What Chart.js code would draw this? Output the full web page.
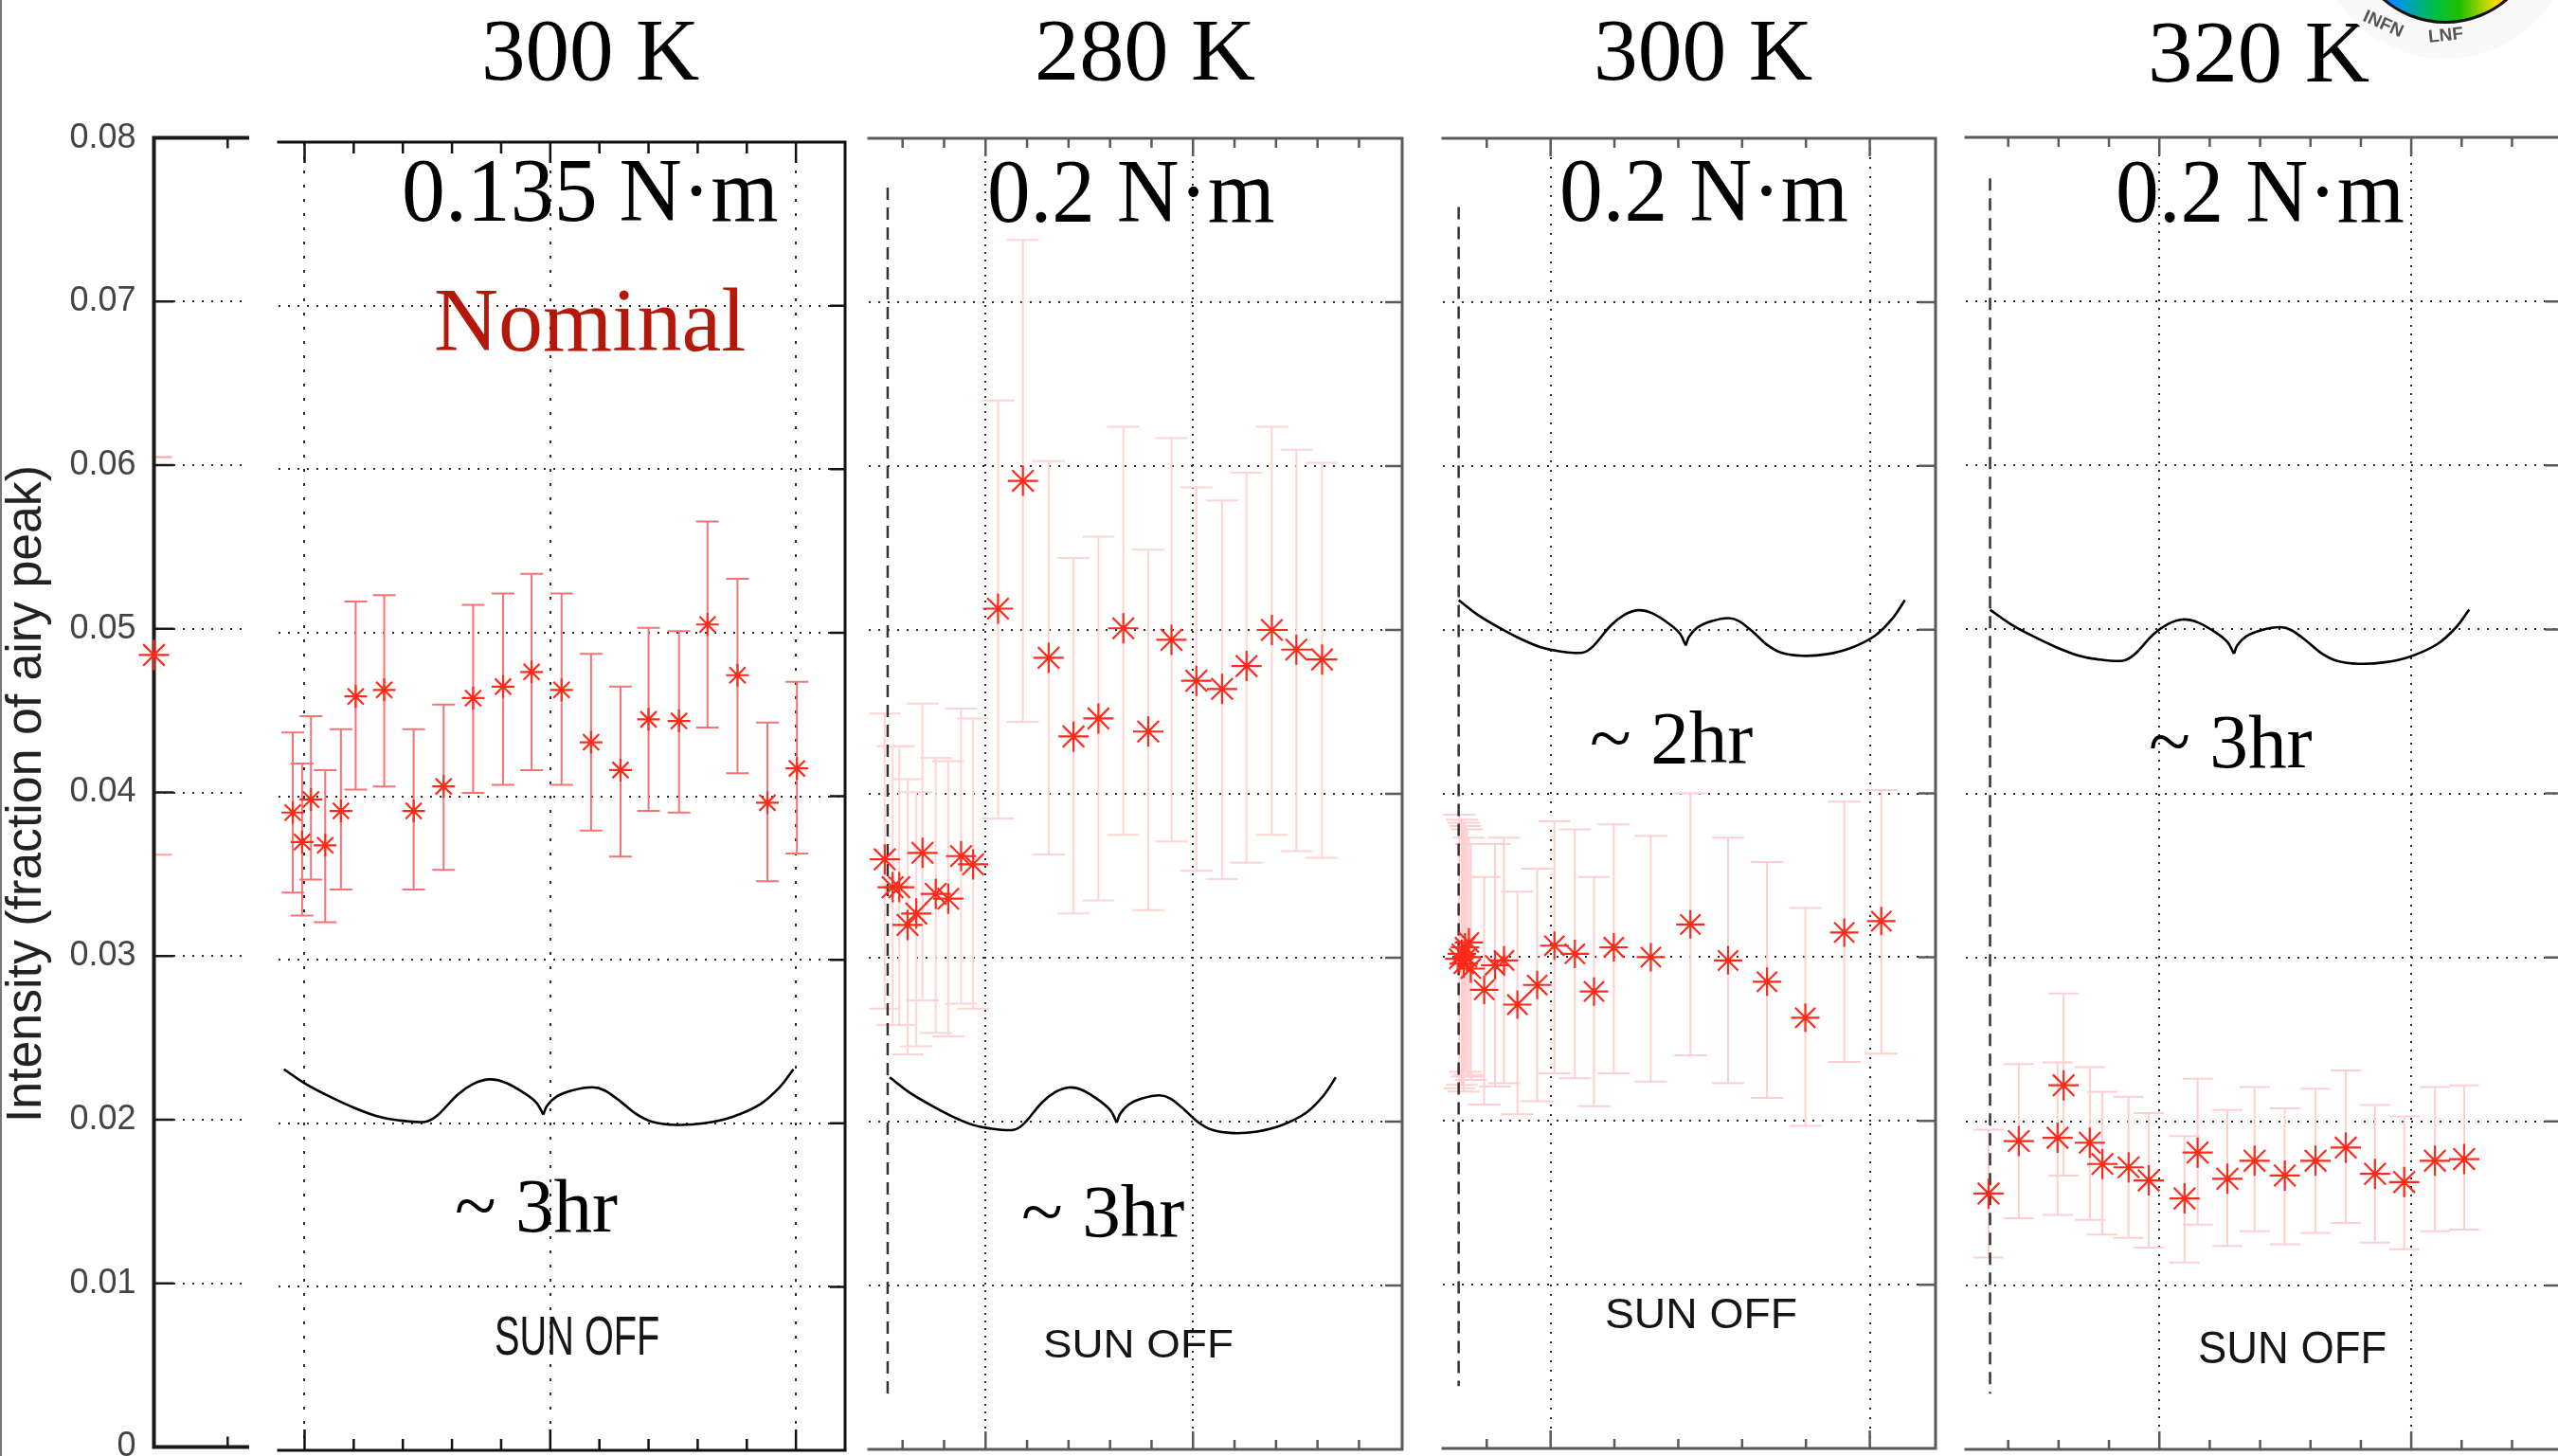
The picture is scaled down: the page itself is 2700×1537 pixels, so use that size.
<!DOCTYPE html>
<html><head><meta charset="utf-8">
<script src="https://cdn.jsdelivr.net/npm/chart.js@4.4.1/dist/chart.umd.min.js"></script>
<style>
html,body{margin:0;padding:0;background:#fff;overflow:hidden}
#stage{position:relative;width:2700px;height:1537px;overflow:hidden;background:#fff}
#stage canvas{position:absolute}
.txt{position:absolute;white-space:nowrap;transform-origin:0 0}
</style></head><body><div id="stage"></div>
<script>
// ================= DATA =================
const yTicks = [0, 0.01, 0.02, 0.03, 0.04, 0.05, 0.06, 0.07, 0.08];
const yTickLabels = ['0', '0.01', '0.02', '0.03', '0.04', '0.05', '0.06', '0.07', '0.08'];
const yGridValues = [0.01, 0.02, 0.03, 0.04, 0.05, 0.06, 0.07];
const yAxisTitle = 'Intensity (fraction of airy peak)';

// run 0 : cut-off previous run at the left edge
const run0Time = [0];
const run0Intensity = [0.0484];
const run0Upper = [0.0605];
const run0Lower = [0.0362];

// run 1 : 300 K, 0.135 N·m (nominal)
const run1Time = [-0.24, -0.05, 0.13, 0.42, 0.74, 1.04, 1.62, 2.22, 2.83, 3.43, 4.04, 4.62, 5.23, 5.83, 6.43, 7.00, 7.62, 8.20, 8.81, 9.42, 10.02];
const run1Intensity = [0.0390, 0.0372, 0.0398, 0.0370, 0.0391, 0.0461, 0.0465, 0.0391, 0.0406, 0.0460, 0.0467, 0.0476, 0.0465, 0.0433, 0.0416, 0.0447, 0.0446, 0.0505, 0.0474, 0.0396, 0.0417];
const run1Upper = [0.0439, 0.0420, 0.0449, 0.0416, 0.0441, 0.0519, 0.0523, 0.0441, 0.0456, 0.0517, 0.0524, 0.0536, 0.0524, 0.0487, 0.0467, 0.0503, 0.0501, 0.0568, 0.0533, 0.0445, 0.0470];
const run1Lower = [0.0341, 0.0327, 0.0349, 0.0323, 0.0343, 0.0404, 0.0406, 0.0343, 0.0355, 0.0402, 0.0407, 0.0416, 0.0407, 0.0379, 0.0363, 0.0391, 0.0390, 0.0442, 0.0414, 0.0348, 0.0365];

// run 2 : 280 K, 0.2 N·m
const run2Time = [2.57, 2.76, 2.92, 3.12, 3.33, 3.48, 3.80, 4.10, 4.41, 4.70, 5.30, 5.90, 6.52, 7.12, 7.72, 8.32, 8.92, 9.48, 10.08, 10.70, 11.29, 11.90, 12.49, 13.11];
const run2Intensity = [0.0360, 0.0343, 0.0343, 0.0320, 0.0327, 0.0364, 0.0339, 0.0336, 0.0362, 0.0357, 0.0513, 0.0591, 0.0483, 0.0435, 0.0446, 0.0501, 0.0438, 0.0494, 0.0469, 0.0464, 0.0478, 0.0500, 0.0488, 0.0482];
const run2Upper = [0.0449, 0.0429, 0.0429, 0.0409, 0.0401, 0.0455, 0.0422, 0.0420, 0.0452, 0.0446, 0.0640, 0.0738, 0.0603, 0.0544, 0.0557, 0.0624, 0.0549, 0.0617, 0.0587, 0.0579, 0.0596, 0.0624, 0.0610, 0.0602];
const run2Lower = [0.0269, 0.0259, 0.0259, 0.0241, 0.0246, 0.0274, 0.0254, 0.0252, 0.0272, 0.0269, 0.0385, 0.0444, 0.0363, 0.0327, 0.0335, 0.0375, 0.0329, 0.0371, 0.0353, 0.0348, 0.0358, 0.0375, 0.0365, 0.0361];

// run 3 : 300 K, 0.2 N·m
const run3Time = [3.57, 3.61, 3.64, 3.66, 3.69, 3.72, 3.75, 3.96, 4.13, 4.27, 4.48, 4.79, 5.06, 5.38, 5.68, 5.99, 6.57, 7.19, 7.78, 8.39, 8.99, 9.60, 10.18];
const run3Intensity = [0.0299, 0.0302, 0.0296, 0.0306, 0.0300, 0.0309, 0.0293, 0.0280, 0.0295, 0.0298, 0.0271, 0.0283, 0.0307, 0.0302, 0.0279, 0.0306, 0.0300, 0.0320, 0.0298, 0.0285, 0.0263, 0.0315, 0.0322];
const run3Upper = [0.0387, 0.0384, 0.0382, 0.0380, 0.0378, 0.0373, 0.0369, 0.0349, 0.0369, 0.0373, 0.0340, 0.0354, 0.0383, 0.0378, 0.0349, 0.0381, 0.0374, 0.0400, 0.0373, 0.0358, 0.0330, 0.0395, 0.0402];
const run3Lower = [0.0220, 0.0222, 0.0218, 0.0230, 0.0227, 0.0228, 0.0225, 0.0210, 0.0221, 0.0223, 0.0204, 0.0212, 0.0229, 0.0226, 0.0209, 0.0229, 0.0224, 0.0240, 0.0223, 0.0214, 0.0197, 0.0236, 0.0241];

// run 4 : 320 K, 0.2 N·m
const run4Time = [1.61, 2.21, 2.98, 3.10, 3.62, 3.87, 4.39, 4.79, 5.50, 5.76, 6.35, 6.89, 7.49, 8.10, 8.70, 9.28, 9.86, 10.47, 11.05];
const run4Intensity = [0.0156, 0.0188, 0.0190, 0.0222, 0.0187, 0.0174, 0.0172, 0.0164, 0.0153, 0.0181, 0.0165, 0.0176, 0.0167, 0.0176, 0.0184, 0.0168, 0.0163, 0.0176, 0.0177];
const run4Upper = [0.0195, 0.0235, 0.0236, 0.0278, 0.0233, 0.0218, 0.0215, 0.0205, 0.0191, 0.0226, 0.0207, 0.0221, 0.0208, 0.0220, 0.0231, 0.0210, 0.0203, 0.0221, 0.0222];
const run4Lower = [0.0117, 0.0141, 0.0143, 0.0167, 0.0140, 0.0131, 0.0129, 0.0123, 0.0114, 0.0137, 0.0124, 0.0133, 0.0125, 0.0132, 0.0138, 0.0126, 0.0122, 0.0133, 0.0134];

// "sun off" instants (dashed markers) and brace annotations (data units)
const sunOffTime = [null, null, 2.64, 3.56, 1.64];
const sunOffSpan = [null, null, [0.0770, 0.0033], [0.0758, 0.0038], [0.0775, 0.0034]];
const braceSpan = [null, [-0.42, 9.95], [2.69, 13.44], [3.56, 10.55], [1.64, 11.15]];
const braceLevel = [null, [0.0233, 0.0199], [0.0227, 0.0193], [0.0518, 0.0484], [0.0512, 0.0479]];
// curly-brace outline: relative position along span (t) and depth (s)
const braceLeftT = [0, 0.043, 0.090, 0.137, 0.184, 0.223, 0.277, 0.301, 0.340, 0.371, 0.402, 0.434, 0.473, 0.496, 0.509];
const braceLeftS = [0, 0.266, 0.492, 0.689, 0.847, 0.915, 0.944, 0.831, 0.463, 0.266, 0.181, 0.237, 0.435, 0.605, 0.814];
const braceRightT = [0.509, 0.516, 0.535, 0.566, 0.605, 0.629, 0.660, 0.691, 0.723, 0.770, 0.824, 0.879, 0.934, 0.973, 1];
const braceRightS = [0.814, 0.661, 0.492, 0.379, 0.322, 0.379, 0.576, 0.802, 0.944, 1.0, 0.972, 0.859, 0.633, 0.322, 0];

const tempLabels = ['300 K', '280 K', '300 K', '320 K'];
const torqueLabels = ['0.135 N·m', '0.2 N·m', '0.2 N·m', '0.2 N·m'];
const durationLabels = ['~ 3hr', '~ 3hr', '~ 2hr', '~ 3hr'];
const sunOffLabel = 'SUN OFF';
const nominalLabel = 'Nominal';

// ================= LAYOUT / STYLE =================
const stage = document.getElementById('stage');
const SERIF = "'Liberation Serif', 'Times New Roman', serif";
const SANS = "'Liberation Sans', Arial, sans-serif";
const STAR = '#ff2a1a';

const panels = [
  { box:{L:162,R:257,T:146,B:1529}, x:[0,1], xGrid:[], xTickVals:[0.79], xMajor:[],
    frame:{left:true,right:false,top:true,bottom:true,color:'#1a1a1a',width:4,yLen:21,minorLen:11,majorLen:11},
    run:[run0Time,run0Intensity,run0Upper,run0Lower], starR:16, err:'#ffa0a0', cap:19, labels:true, xDash:[2,8] },
  { box:{L:294,R:892,T:150,B:1531}, x:[-0.53,11.0], xGrid:[0,5,10], xTickVals:[0,1,2,3,4,5,6,7,8,9,10], xMajor:[0,5,10],
    frame:{left:false,right:true,top:true,bottom:true,color:'#111',width:3,yLen:16,minorLen:12,majorLen:22},
    run:[run1Time,run1Intensity,run1Upper,run1Lower], starR:12, err:'#f27474', cap:12, xDash:[3,12] },
  { box:{L:917,R:1480,T:146,B:1530}, x:[2.185,15.04], xGrid:[5,10], xTickVals:[3,4,5,6,7,8,9,10,11,12,13,14], xMajor:[5,10],
    frame:{left:false,right:true,top:true,bottom:true,color:'#5a5a5a',width:3,yLen:18,minorLen:10,majorLen:19},
    run:[run2Time,run2Intensity,run2Upper,run2Lower], starR:16, err:'#ffd4d4', cap:17, xDash:[2,6] },
  { box:{L:1523,R:2043,T:146,B:1529}, x:[3.313,11.03], xGrid:[5,10], xTickVals:[4,5,6,7,8,9,10], xMajor:[5,10],
    frame:{left:false,right:true,top:true,bottom:true,color:'#5a5a5a',width:3,yLen:18,minorLen:10,majorLen:19},
    run:[run3Time,run3Intensity,run3Upper,run3Lower], starR:15, err:'#ffcfcf', cap:17, xDash:[2,8] },
  { box:{L:2075,R:2702,T:145,B:1530}, x:[1.16,12.95], xGrid:[5,10], xTickVals:[2,3,4,5,6,7,8,9,10,11,12], xMajor:[5,10],
    frame:{left:false,right:true,top:true,bottom:true,color:'#5a5a5a',width:3,yLen:16,minorLen:10,majorLen:19},
    run:[run4Time,run4Intensity,run4Upper,run4Lower], starR:16, err:'#ffcfcf', cap:16, xDash:[2,7] }
];

// plugin: error bars (under markers) + axes frame with inward ticks
const framePlugin = {
  id: 'frame',
  beforeDatasetsDraw(chart) {
    const o = chart.options.plugins.frame; if (!o) return;
    const ctx = chart.ctx, xs = chart.scales.x, ys = chart.scales.y;
    const L = xs.left, R = xs.right, T = ys.top, B = ys.bottom;
    ctx.save();
    ctx.beginPath(); ctx.rect(L, T - 40, R - L, B - T + 80); ctx.clip();
    chart.data.datasets.forEach(ds => {
      if (!ds.errHi) return;
      ctx.strokeStyle = ds.errColor; ctx.lineWidth = 2;
      ds.data.forEach((p, i) => {
        const x = xs.getPixelForValue(p.x);
        const yh = ys.getPixelForValue(ds.errHi[i]);
        const yl = ys.getPixelForValue(ds.errLo[i]);
        const w = ds.capHalf;
        ctx.beginPath();
        ctx.moveTo(x, yh); ctx.lineTo(x, yl);
        ctx.moveTo(x - w, yh); ctx.lineTo(x + w, yh);
        ctx.moveTo(x - w, yl); ctx.lineTo(x + w, yl);
        ctx.stroke();
      });
    });
    ctx.restore();
    ctx.save();
    ctx.strokeStyle = o.color; ctx.lineWidth = o.width; ctx.lineCap = 'square';
    ctx.beginPath();
    if (o.top) { ctx.moveTo(L, T); ctx.lineTo(R, T); }
    if (o.bottom) { ctx.moveTo(L, B); ctx.lineTo(R, B); }
    if (o.right) { ctx.moveTo(R, T); ctx.lineTo(R, B); }
    if (o.left) { ctx.moveTo(L, T); ctx.lineTo(L, B); }
    ctx.stroke();
    ctx.lineWidth = 2.5; ctx.lineCap = 'butt';
    ctx.beginPath();
    o.xTickVals.forEach(v => {
      const px = xs.getPixelForValue(v);
      const len = o.xMajor.includes(v) ? o.majorLen : o.minorLen;
      if (o.top) { ctx.moveTo(px, T); ctx.lineTo(px, T + len); }
      if (o.bottom) { ctx.moveTo(px, B); ctx.lineTo(px, B - len); }
    });
    yGridValues.forEach(v => {
      const py = ys.getPixelForValue(v);
      if (o.right) { ctx.moveTo(R, py); ctx.lineTo(R - o.yLen, py); }
      if (o.left) { ctx.moveTo(L, py); ctx.lineTo(L + o.yLen, py); }
    });
    ctx.stroke();
    ctx.restore();
  }
};

function bracePoints(ts, ss, span, level) {
  return ts.map((t, i) => ({ x: span[0] + t * (span[1] - span[0]), y: level[0] - ss[i] * (level[0] - level[1]) }));
}

function buildConfig(p, idx, pad) {
  const [xs, ys, hi, lo] = p.run;
  const datasets = [{
    data: xs.map((x, i) => ({ x, y: ys[i] })),
    pointStyle: 'star', pointRadius: p.starR, borderColor: STAR, backgroundColor: STAR,
    borderWidth: 2.2, clip: false, errHi: hi, errLo: lo, errColor: p.err, capHalf: p.cap, order: 0
  }];
  if (braceSpan[idx]) {
    [[braceLeftT, braceLeftS], [braceRightT, braceRightS]].forEach(([t, s]) => datasets.push({
      type: 'line', data: bracePoints(t, s, braceSpan[idx], braceLevel[idx]),
      borderColor: '#000', borderWidth: 2.6, pointRadius: 0, tension: 0.3, fill: false, clip: false, order: 1
    }));
  }
  if (sunOffTime[idx] !== null) {
    datasets.push({
      type: 'line', data: [{ x: sunOffTime[idx], y: sunOffSpan[idx][0] }, { x: sunOffTime[idx], y: sunOffSpan[idx][1] }],
      borderColor: '#333', borderWidth: 2.5, borderDash: [13, 8], pointRadius: 0, fill: false, order: 2
    });
  }
  const frame = Object.assign({ xTickVals: p.xTickVals, xMajor: p.xMajor }, p.frame);
  return {
    type: 'scatter',
    data: { datasets },
    options: {
      responsive: false, maintainAspectRatio: false, animation: false, devicePixelRatio: 1, events: [],
      layout: { padding: { left: p.labels ? 0 : pad, right: pad, top: pad, bottom: pad } },
      plugins: { legend: { display: false }, tooltip: { enabled: false }, frame },
      scales: {
        x: {
          type: 'linear', min: p.x[0], max: p.x[1], display: true,
          ticks: { display: false },
          grid: { display: p.xGrid.length > 0, color: '#2a2a2a', lineWidth: 2, drawTicks: false },
          border: { display: false, dash: p.xDash },
          afterBuildTicks: s => { if (p.xGrid.length) s.ticks = p.xGrid.map(v => ({ value: v })); }
        },
        y: {
          type: 'linear', min: 0, max: 0.08, display: true, position: 'left',
          ticks: p.labels ? {
            display: true, padding: 19, color: '#444', font: { family: SANS, size: 36 },
            callback: (v, i) => yTickLabels[i]
          } : { display: false },
          grid: { color: '#2a2a2a', lineWidth: 2, drawTicks: false },
          border: { display: false, dash: [2, 8] },
          afterBuildTicks: s => { s.ticks = (p.labels ? yTicks : yGridValues).map(v => ({ value: v })); }
        }
      }
    },
    plugins: [framePlugin]
  };
}

function addChart(p, idx) {
  const pad = 40;
  const H = p.box.B - p.box.T + 2 * pad;
  let W = p.box.R - p.box.L + 2 * pad + (p.labels ? 160 : 0);
  let cv, chart;
  for (let pass = 0; pass < 3; pass++) {
    if (chart) { chart.destroy(); cv.remove(); }
    cv = document.createElement('canvas');
    stage.appendChild(cv);
    cv.width = W; cv.height = H; cv.style.width = W + 'px'; cv.style.height = H + 'px';
    chart = new Chart(cv, buildConfig(p, idx, pad));
    const ca = chart.chartArea;
    const needW = Math.round(ca.left + (p.box.R - p.box.L) + pad);
    if (needW === W) break;
    W = needW;
  }
  const ca = chart.chartArea;
  cv.style.left = (p.box.L - ca.left) + 'px';
  cv.style.top = (p.box.T - ca.top) + 'px';
}
panels.forEach(addChart);

// ================= TEXT =================
const mctx = document.createElement('canvas').getContext('2d');
function placeText(txt, x1, x2, base, size, family, color) {
  mctx.font = `${size}px ${family}`;
  const m = mctx.measureText(txt);
  const inkW = m.actualBoundingBoxLeft + m.actualBoundingBoxRight;
  const s = (x2 - x1) / inkW;
  const asc = m.fontBoundingBoxAscent, desc = m.fontBoundingBoxDescent;
  const d = document.createElement('div');
  d.className = 'txt';
  d.textContent = txt;
  d.style.font = `${size}px ${family}`;
  d.style.lineHeight = (asc + desc) + 'px';
  d.style.color = color;
  d.style.left = (x1 + m.actualBoundingBoxLeft * s) + 'px';
  d.style.top = (base - asc) + 'px';
  d.style.transform = `scaleX(${s})`;
  stage.appendChild(d);
}
// rotated (bottom-to-top) text, fitted to a given ink length and centred on (cx, cy)
function placeVertical(txt, cx, cy, len, size, family, color) {
  mctx.font = `${size}px ${family}`;
  const m = mctx.measureText(txt);
  const inkW = m.actualBoundingBoxLeft + m.actualBoundingBoxRight;
  const s = len / inkW;
  const asc = m.fontBoundingBoxAscent, desc = m.fontBoundingBoxDescent;
  const icx = (m.actualBoundingBoxRight - m.actualBoundingBoxLeft) / 2;
  const icy = asc + (m.actualBoundingBoxDescent - m.actualBoundingBoxAscent) / 2;
  const d = document.createElement('div');
  d.className = 'txt';
  d.textContent = txt;
  d.style.font = `${size}px ${family}`;
  d.style.lineHeight = (asc + desc) + 'px';
  d.style.color = color;
  d.style.left = '0px'; d.style.top = '0px';
  d.style.transform = `translate(${cx}px, ${cy}px) rotate(-90deg) scaleX(${s}) translate(${-icx}px, ${-icy}px)`;
  stage.appendChild(d);
}
placeVertical(yAxisTitle, 29.5, 837.5, 687, 51, SANS, '#222');

const tempPos = [[512, 738, 84], [1096, 1325, 84], [1686, 1913, 84], [2271, 2501, 86]];
tempLabels.forEach((t, i) => placeText(t, tempPos[i][0], tempPos[i][1], tempPos[i][2], 93, SERIF, '#000'));
const torquePos = [[427, 821, 233], [1045, 1345, 234], [1649, 1950, 233], [2236, 2537, 233.5]];
torqueLabels.forEach((t, i) => placeText(t, torquePos[i][0], torquePos[i][1], torquePos[i][2], 95, SERIF, '#000'));
placeText(nominalLabel, 460, 786, 370, 95, SERIF, '#b3180a');
const durPos = [[482, 652, 1300, 81], [1080, 1250, 1305, 79], [1680, 1850, 805, 79], [2270, 2440, 809.5, 80]];
durationLabels.forEach((t, i) => placeText(t, durPos[i][0], durPos[i][1], durPos[i][2], durPos[i][3], SERIF, '#000'));
const sunPos = [[523, 695, 1430, 58], [1102, 1300, 1433, 42], [1696, 1896, 1402, 44], [2322, 2518, 1439, 48]];
sunPos.forEach(sp => placeText(sunOffLabel, sp[0], sp[1], sp[2], sp[3], SANS, '#151515'));

// left edge line and logo
const edge = document.createElement('div');
edge.style.cssText = 'position:absolute;left:0;top:0;width:2px;height:1537px;background:#777';
stage.appendChild(edge);
const halo = document.createElement('div');
halo.style.cssText = 'position:absolute;left:2445px;top:-210px;width:272px;height:272px;border-radius:50%;background:#f9f9f9';
stage.appendChild(halo);
const logo = document.createElement('div');
logo.style.cssText = 'position:absolute;left:2480px;top:-177px;width:202px;height:202px;border-radius:50%;box-sizing:border-box;border:3px solid #111;background:linear-gradient(90deg,#2030ff 0%,#0090ff 22%,#00c040 45%,#20c000 58%,#ffe000 78%,#ff7a00 92%,#ff5000 100%)';
stage.appendChild(logo);
[['INFN', 2500, 6, 24], ['LNF', 2562, 28, -6]].forEach(([t, x, y, r]) => {
  const d = document.createElement('div');
  d.className = 'txt';
  d.textContent = t;
  d.style.cssText += `left:${x}px;top:${y}px;font:bold 19px ${SANS};color:#555;transform:rotate(${r}deg);transform-origin:0 0`;
  stage.appendChild(d);
});
</script></body></html>
